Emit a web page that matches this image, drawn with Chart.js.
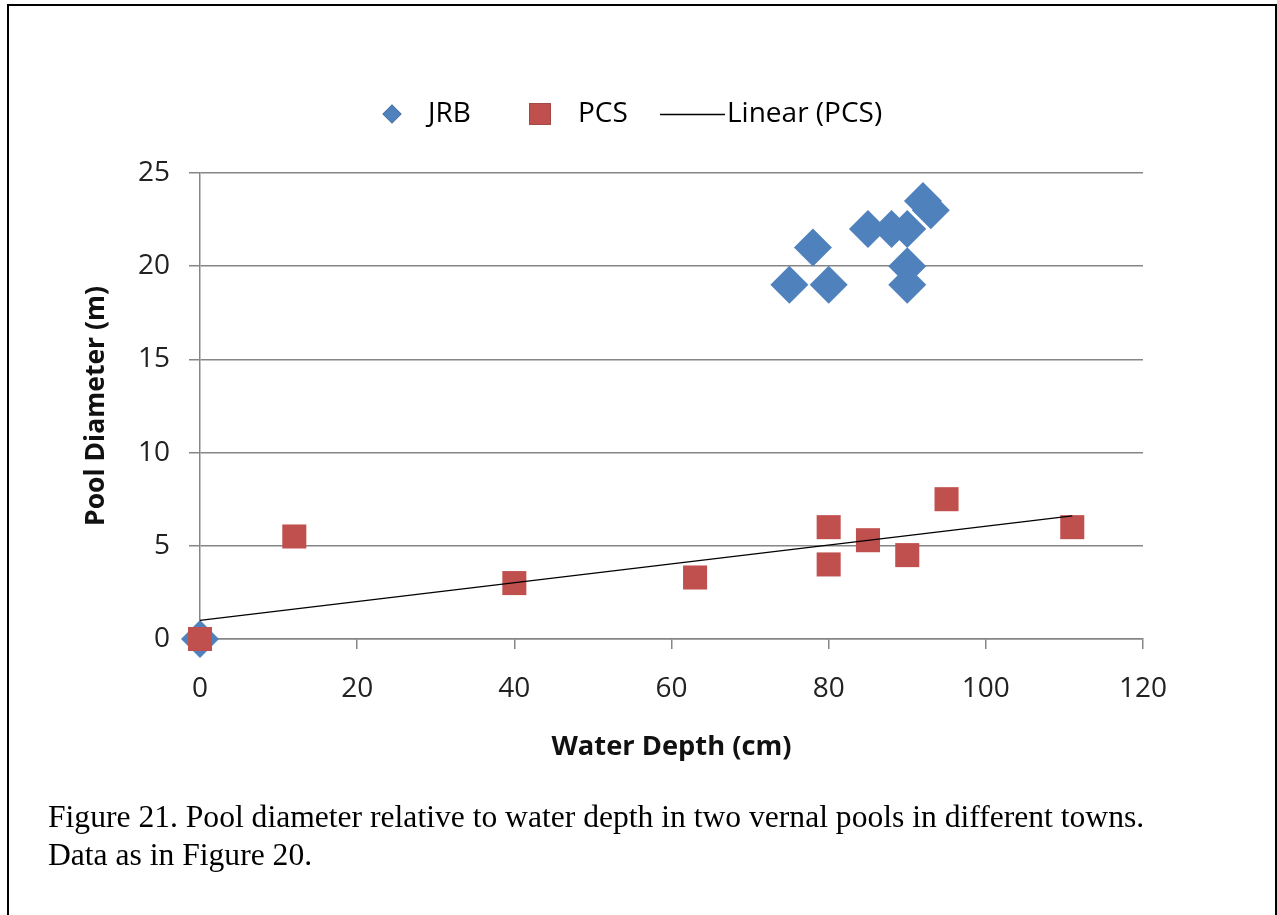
<!DOCTYPE html>
<html>
<head>
<meta charset="utf-8">
<script src="https://cdn.jsdelivr.net/npm/chart.js@4.4.0/dist/chart.umd.min.js"></script>
<style>
html,body{margin:0;padding:0;background:#fff;}
#wrap{position:relative;width:1277px;height:915px;overflow:hidden;background:#fff;}
#frame{position:absolute;left:7px;top:4px;width:1270px;height:1000px;border:2px solid #000;box-sizing:border-box;}
#c{position:absolute;left:0;top:0;}
#caption{position:absolute;left:48px;top:798px;font-family:"Liberation Serif","Times New Roman",serif;font-size:31.6px;line-height:38px;color:#000;white-space:nowrap;}
</style>
</head>
<body>
<div id="wrap">
<div id="frame"></div>
<canvas id="c" width="1277" height="915"></canvas>
<div id="caption">Figure 21. Pool diameter relative to water depth in two vernal pools in different towns.<br>Data as in Figure 20.</div>
</div>
<script>
// ---- data ----
const seriesNames = ['JRB', 'PCS', 'Linear (PCS)'];
const jrbDepth    = [0, 75, 78, 80, 85, 88, 90, 90, 90, 92, 93];
const jrbDiameter = [0, 19, 21, 19, 22, 22, 22, 20, 19, 23.5, 23];
const pcsDepth    = [0, 12, 40, 63, 80, 80, 85, 90, 95, 111];
const pcsDiameter = [0, 5.5, 3, 3.3, 6, 4, 5.3, 4.5, 7.5, 6];
const trendDepth    = [0, 111];
const trendDiameter = [1.0, 6.6];
const xTicks = [0, 20, 40, 60, 80, 100, 120];
const yTicks = [0, 5, 10, 15, 20, 25];
const xTitle = 'Water Depth (cm)';
const yTitle = 'Pool Diameter (m)';

const toPts = (xs, ys) => xs.map((x, i) => ({x: x, y: ys[i]}));

const BLUE = '#4F81BD', RED = '#C0504D', AXIS = '#868686';
const FONT = '"Open Sans", "DejaVu Sans", sans-serif';

const legendPlugin = {
  id: 'customLegend',
  afterDraw(chart, args, opts) {
    const ctx = chart.ctx;
    ctx.save();
    ctx.font = opts.fontSize + 'px ' + FONT;
    ctx.fillStyle = '#000';
    ctx.textBaseline = 'middle';
    ctx.textAlign = 'left';
    const y = opts.y;
    opts.items.forEach((it, i) => {
      const ds = chart.data.datasets[i];
      if (it.kind === 'line') {
        ctx.strokeStyle = ds.borderColor;
        ctx.lineWidth = 1.5;
        ctx.beginPath();
        ctx.moveTo(it.sx, y + 0.5);
        ctx.lineTo(it.ex, y + 0.5);
        ctx.stroke();
      } else {
        Chart.helpers.drawPoint(ctx, {pointStyle: ds.pointStyle, radius: it.r, borderWidth: 0, rotation: 0}, it.sx, y);
        ctx.fillStyle = ds.backgroundColor;
        ctx.fill();
        ctx.fillStyle = '#000';
      }
      ctx.fillText(ds.label, it.tx, y);
    });
    ctx.restore();
  }
};

new Chart(document.getElementById('c'), {
  type: 'scatter',
  data: {
    datasets: [
      {
        label: seriesNames[0],
        data: toPts(jrbDepth, jrbDiameter),
        pointStyle: 'rectRot',
        pointRadius: 19,
        pointHoverRadius: 19,
        backgroundColor: BLUE,
        borderColor: BLUE,
        borderWidth: 0,
        order: 2,
        clip: false
      },
      {
        label: seriesNames[1],
        data: toPts(pcsDepth, pcsDiameter),
        pointStyle: 'rect',
        pointRadius: 17,
        pointHoverRadius: 17,
        backgroundColor: RED,
        borderColor: RED,
        borderWidth: 0,
        order: 1,
        clip: false
      },
      {
        label: seriesNames[2],
        type: 'line',
        data: toPts(trendDepth, trendDiameter),
        showLine: true,
        borderColor: '#000',
        borderWidth: 1.3,
        pointRadius: 0,
        fill: false,
        order: 0,
        clip: false
      }
    ]
  },
  options: {
    responsive: false,
    animation: false,
    events: [],
    layout: {padding: {top: 173, right: 134, left: 0, bottom: 0}},
    plugins: {
      legend: {display: false},
      tooltip: {enabled: false},
      customLegend: {
        y: 114,
        fontSize: 28,
        items: [
          {kind: 'point', sx: 392, r: 9.5, tx: 428},
          {kind: 'point', sx: 540, r: 15.3, tx: 578},
          {kind: 'line', sx: 660, ex: 725, tx: 727}
        ]
      }
    },
    scales: {
      x: {
        type: 'linear',
        min: 0, max: 120,
        afterBuildTicks: s => { s.ticks = xTicks.map(v => ({value: v})); },
        afterFit: s => { s.height = 915 - 639; },
        border: {display: true, color: AXIS, width: 1.5},
        grid: {drawOnChartArea: false, drawTicks: true, tickLength: 10, color: AXIS, lineWidth: 1.5},
        ticks: {color: '#222', font: {family: FONT, size: 28}, padding: 23, maxRotation: 0},
        title: {display: true, text: xTitle, color: '#111', font: {family: FONT, size: 27.3, weight: 'bold'}, padding: {top: 0, bottom: 151}}
      },
      y: {
        type: 'linear',
        min: 0, max: 25,
        afterBuildTicks: s => { s.ticks = yTicks.map(v => ({value: v})); },
        afterFit: s => { s.width = 200; },
        border: {display: true, color: AXIS, width: 1.5},
        grid: {drawOnChartArea: true, drawTicks: true, tickLength: 11, color: AXIS, lineWidth: 1.5},
        ticks: {color: '#222', font: {family: FONT, size: 28}, padding: 19},
        title: {display: true, text: yTitle, color: '#111', font: {family: FONT, size: 26.5, weight: 'bold'}, padding: {top: 81, bottom: 0}}
      }
    }
  },
  plugins: [legendPlugin]
});
</script>
</body>
</html>
